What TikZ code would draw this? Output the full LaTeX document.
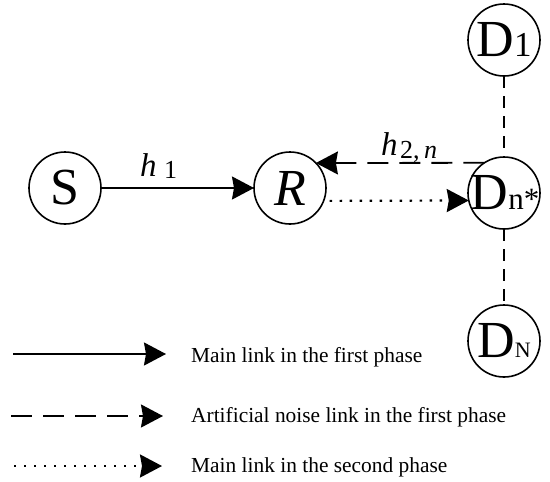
\documentclass[tikz,border=0pt]{standalone}
\usepackage{fontspec}
\setmainfont{Liberation Serif}
\usetikzlibrary{arrows.meta}
\begin{document}
\begin{tikzpicture}[x=1pt,y=-1pt,
  circ/.style={circle,draw,line width=1.6pt,minimum size=72pt,inner sep=0pt,outer sep=0pt},
  big/.style={inner sep=0pt,font=\fontsize{52}{52}\selectfont},
  bigit/.style={inner sep=0pt,font=\fontsize{52}{52}\selectfont\itshape},
  tipped/.style={-{Stealth[length=22pt,width=23pt,inset=2pt]}},
  mainlink/.style={tipped,line width=1.8pt},
  noiselink/.style={tipped,line width=1.8pt,dash pattern=on 21pt off 11pt},
  secondlink/.style={tipped,line width=2.2pt,dash pattern=on 2.4pt off 7.6pt},
  tie/.style={line width=1.1pt,dash pattern=on 12pt off 8pt},
  legtext/.style={anchor=base west,inner sep=0pt,font=\fontsize{21.4}{24}\selectfont},
  hlab/.style={anchor=base west,inner sep=0pt,font=\fontsize{33}{33}\selectfont\itshape},
  sublab/.style={anchor=base west,inner sep=0pt,font=\fontsize{26}{26}\selectfont},
]
\useasboundingbox (0,0) rectangle (550,482);

% circles
\node[circ] (S) at (65,188) {};
\node[circ] (R) at (290,188) {};
\node[circ] (Dn) at (504,193) {};
\node[circ] (D1) at (504,40) {};
\node[circ] (DN) at (504,341) {};

% circle texts
\node[big] (tS) at (S) {S};
\node[bigit] (tR) at (R) {R};
\node[big] (tDn) at ([xshift=1pt]Dn) {D{\fontsize{31}{31}\selectfont n*}};
\node[big] (tD1) at (D1) {D{\fontsize{35}{35}\selectfont 1}};
\node[big] (tDN) at (DN) {D{\fontsize{22}{22}\selectfont N}};

% links
\draw[mainlink] (S.east) -- (R.west);
\draw[noiselink] (Dn.123.56) -- (R.44);
\draw[secondlink,shorten <=6pt] (R.-21) -- (Dn.192.8);
\draw[tie] (D1.south) -- (Dn.north);
\draw[tie] (Dn.south) -- (DN.north);

% channel labels
\node[hlab] (h1) at (140,176) {h};
\node[sublab] (h1s) at (164,178) {1};
\node[hlab] (h2) at (381,155) {h};
\node[sublab] (h2s) at (400,158) {2,\,\textit{n}};

% legend
\coordinate (la1) at (13,354);
\coordinate (lb1) at (166,354);
\coordinate (la2) at (11,416);
\coordinate (lb2) at (163,416);
\coordinate (la3) at (14,466);
\coordinate (lb3) at (162,466);
\draw[mainlink] (la1) -- (lb1);
\draw[noiselink] (la2) -- (lb2);
\draw[secondlink] (la3) -- (lb3);
\node[legtext] (t1) at (191,362) {Main link in the first phase};
\node[legtext] (t2) at (191,422) {Artificial noise link in the first phase};
\node[legtext] (t3) at (191,472) {Main link in the second phase};
\end{tikzpicture}
\end{document}
